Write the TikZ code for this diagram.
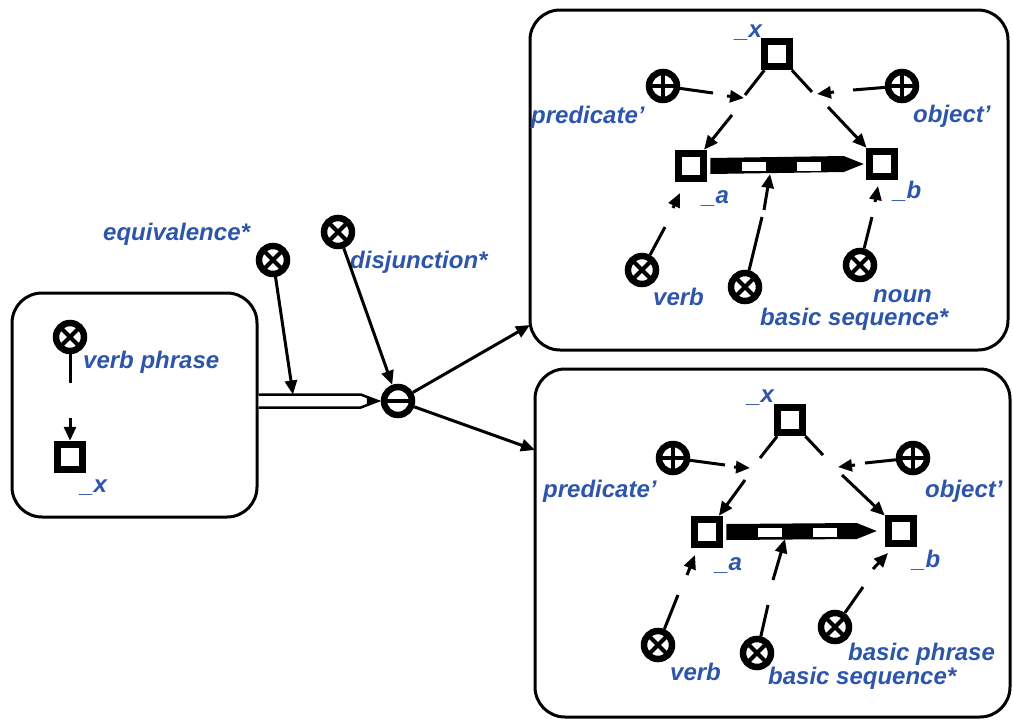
\documentclass[tikz,border=0pt]{standalone}
\usepackage{fontspec}
\setmainfont{Liberation Sans}
\usetikzlibrary{arrows.meta,calc}
\definecolor{labblue}{RGB}{45,85,170}
\newcommand\seqbarX[3]{%
 \fill ($(#1.east)+(3,-8)$) -- ($(#2.west)+(#3-20,-8)$) -- ($(#2.west)+(#3,0)$) -- ($(#2.west)+(#3-20,8)$) -- ($(#1.east)+(3,8)$) -- cycle;
 \fill[white] ($(#1.east)+(35,-4.5)$) rectangle ($(#1.east)+(59,4.5)$);
 \fill[white] ($(#1.east)+(90,-4.5)$) rectangle ($(#1.east)+(114,4.5)$);}
\begin{document}
\begin{tikzpicture}[x=1pt,y=-1pt,
  conn/.style={line width=3pt},
  arr/.style={line width=3pt,-{Triangle[length=14pt,width=12pt]}},
  box/.style={draw,line width=3pt,rounded corners=30pt,inner sep=0pt},
  sym/.style={circle,draw,line width=6.5pt,minimum size=28pt,inner sep=0pt,fill=white},
  otimes/.style={sym,path picture={\draw[line width=4pt] (path picture bounding box.north west)--(path picture bounding box.south east) (path picture bounding box.north east)--(path picture bounding box.south west);}},
  oplus/.style={sym,path picture={\draw[line width=4pt] (path picture bounding box.north)--(path picture bounding box.south) (path picture bounding box.east)--(path picture bounding box.west);}},
  ominus/.style={sym,path picture={\draw[line width=4pt] (path picture bounding box.east)--(path picture bounding box.west);}},
  sq/.style={rectangle,draw,line width=7.5pt,minimum size=25pt,inner sep=0pt,fill=white},
  lab/.style={text=labblue,font=\fontsize{24}{24}\selectfont\bfseries\itshape,inner sep=0pt,anchor=base west},
]
\fill[white] (0,0) rectangle (1013,721);
\useasboundingbox (0,0) rectangle (1013,721);

% boxes
\node[box,minimum width=245pt,minimum height=224pt] (Lbox) at (134.5,405) {};
\node[box,minimum width=478pt,minimum height=340pt] (Tbox) at (769,180) {};
\node[box,minimum width=475pt,minimum height=348pt] (Bbox) at (772.5,543) {};

% left part
\node[otimes] (vpL) at (70,337) {};
\node[sq] (xL) at (70,457) {};
\node[lab] at (83,368) {verb phrase};
\node[lab] at (80,492) {\_x};
\coordinate (g1) at (70,383);
\coordinate (h1) at (70,418);
\draw[conn] (vpL) -- (g1);
\draw[arr] (h1) -- (xL);

\node[ominus] (cen) at (398,401) {};
\node[otimes] (eq) at (273,260) {};
\node[otimes] (dj) at (338,232) {};
\node[lab] at (103,240) {equivalence*};
\node[lab] at (350,268) {disjunction*};

\draw[line width=2.5pt,fill=white] ($(Lbox.east|-cen)+(0,-6.5)$) -- ($(cen.west)+(-20,-6.5)$) -- ($(cen.west)+(-3,0)$) -- ($(cen.west)+(-20,6.5)$) -- ($(Lbox.east|-cen)+(0,6.5)$);
\fill ($(cen.west)+(-14,-4)$) -- ($(cen.west)+(-3,0)$) -- ($(cen.west)+(-14,4)$) -- cycle;
\coordinate (eqtip) at (293,394.5);
\draw[arr] (eq) -- (eqtip);
\draw[arr] (dj) -- (cen);
\coordinate (tin) at (530,325);
\coordinate (bin) at (535,450);
\draw[arr] (cen) -- (tin);
\draw[arr] (cen) -- (bin);

% top box
\node[sq] (xT) at (777,54) {};
\node[sq] (aT) at (691,166) {};
\node[sq] (bT) at (882,164) {};
\node[oplus] (predT) at (663,86) {};
\node[oplus] (objT) at (902,86) {};
\node[otimes] (verbT) at (642,270) {};
\node[otimes] (bseqT) at (745,287) {};
\node[otimes] (nounT) at (860,265) {};
\node[lab] at (735,37) {\_x};
\node[lab] at (531,123) {predicate'};
\node[lab] at (913,122) {object'};
\node[lab] at (702,203) {\_a};
\node[lab] at (893,198) {\_b};
\node[lab] at (653,305) {verb};
\node[lab] at (873,302) {noun};
\node[lab] at (760,325) {basic sequence*};
\seqbarX{aT}{bT}{-2}
\coordinate (Ta1) at (745,95);  \coordinate (Ta2) at (732,115);
\draw[conn] (xT) -- (Ta1); \draw[arr] (Ta2) -- (aT);
\coordinate (Tb1) at (812,92);  \coordinate (Tb2) at (828,107);
\draw[conn] (xT) -- (Tb1); \draw[arr] (Tb2) -- (bT);
\coordinate (Tp1) at (713,93); \coordinate (Tp2) at (727,96); \coordinate (Tp3) at (744,98);
\draw[conn] (predT) -- (Tp1); \draw[arr] (Tp2) -- (Tp3);
\coordinate (To1) at (853,90); \coordinate (To2) at (834,92); \coordinate (To3) at (817,94);
\draw[conn] (objT) -- (To1); \draw[arr] (To2) -- (To3);
\coordinate (Tv1) at (665,227); \coordinate (Tv2) at (673,208); \coordinate (Tv3) at (680,193);
\draw[conn] (verbT) -- (Tv1); \draw[arr] (Tv2) -- (Tv3);
\coordinate (Ts1) at (762,217); \coordinate (Ts2) at (764,210); \coordinate (Ts3) at (770,174);
\draw[conn] (bseqT) -- (Ts1); \draw[arr] (Ts2) -- (Ts3);
\coordinate (Tn1) at (872,217); \coordinate (Tn2) at (875,202); \coordinate (Tn3) at (878,186);
\draw[conn] (nounT) -- (Tn1); \draw[arr] (Tn2) -- (Tn3);

% bottom box
\node[sq] (xB) at (790,420) {};
\node[sq] (aB) at (707,532) {};
\node[sq] (bB) at (901,531) {};
\node[oplus] (predB) at (673,458) {};
\node[oplus] (objB) at (913,458) {};
\node[otimes] (verbB) at (658,645) {};
\node[otimes] (bseqB) at (757,653) {};
\node[otimes] (bphrB) at (835,627) {};
\node[lab] at (747,402) {\_x};
\node[lab] at (543,497) {predicate'};
\node[lab] at (925,497) {object'};
\node[lab] at (715,570) {\_a};
\node[lab] at (912,567) {\_b};
\node[lab] at (670,680) {verb};
\node[lab] at (848,660) {basic phrase};
\node[lab] at (768,684) {basic sequence*};
\seqbarX{aB}{bB}{-8}
\coordinate (Ba1) at (760,458);  \coordinate (Ba2) at (745,480);
\draw[conn] (xB) -- (Ba1); \draw[arr] (Ba2) -- (aB);
\coordinate (Bb1) at (823,455);  \coordinate (Bb2) at (842,475);
\draw[conn] (xB) -- (Bb1); \draw[arr] (Bb2) -- (bB);
\coordinate (Bp1) at (725,465); \coordinate (Bp2) at (734,467); \coordinate (Bp3) at (750,468);
\draw[conn] (predB) -- (Bp1); \draw[arr] (Bp2) -- (Bp3);
\coordinate (Bo1) at (865,463); \coordinate (Bo2) at (855,465); \coordinate (Bo3) at (838,467);
\draw[conn] (objB) -- (Bo1); \draw[arr] (Bo2) -- (Bo3);
\coordinate (Bv1) at (678,595); \coordinate (Bv2) at (687,575); \coordinate (Bv3) at (695,555);
\draw[conn] (verbB) -- (Bv1); \draw[arr] (Bv2) -- (Bv3);
\coordinate (Bs1) at (768,605); \coordinate (Bs2) at (773,580); \coordinate (Bs3) at (785,539);
\draw[conn] (bseqB) -- (Bs1); \draw[arr] (Bs2) -- (Bs3);
\coordinate (Bh1) at (863,587); \coordinate (Bh2) at (873,569); \coordinate (Bh3) at (888,553);
\draw[conn] (bphrB) -- (Bh1); \draw[arr] (Bh2) -- (Bh3);
\end{tikzpicture}
\end{document}
